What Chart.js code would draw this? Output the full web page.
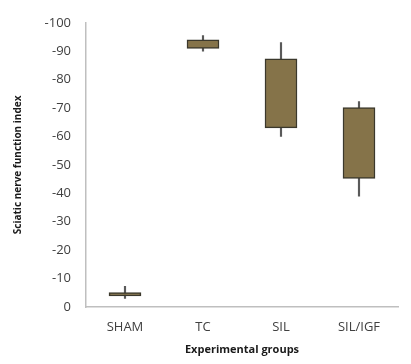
<!DOCTYPE html>
<html>
<head>
<meta charset="utf-8">
<script src="https://cdn.jsdelivr.net/npm/chart.js@4.4.0/dist/chart.umd.min.js"></script>
<style>
  html, body { margin: 0; padding: 0; background: #fff; }
  #wrap { width: 411px; height: 364px; }
</style>
</head>
<body>
<div id="wrap"><canvas id="myChart"></canvas></div>
<script>
// values shown as magnitudes; the axis labels carry the minus sign
const groups = ["SHAM", "TC", "SIL", "SIL/IGF"];
const boxLow = [3.9, 91, 63, 45.2];
const boxHigh = [5.1, 94, 87.3, 70.2];
const whiskerLow = [3.0, 90, 60, 39];
const whiskerHigh = [7.3, 95.5, 93, 72.3];
const yTicks = [0, 10, 20, 30, 40, 50, 60, 70, 80, 90, 100];

const boxData = groups.map((g, i) => [boxLow[i], boxHigh[i]]);
const whiskerData = groups.map((g, i) => [whiskerLow[i], whiskerHigh[i]]);

const data = {
     labels: groups,
     datasets: [
          {
               label: "box",
               data: boxData,
               backgroundColor: "#857349",
               borderColor: "#3b382c",
               borderWidth: 1.5,
               borderSkipped: false,
               barThickness: 32,
               grouped: false,
               order: 1
          },
          {
               label: "whisker",
               data: whiskerData,
               backgroundColor: "#5a5a5a",
               borderWidth: 0,
               barThickness: 1.5,
               grouped: false,
               order: 2
          }
     ]
};

const config = {
     type: "bar",
     data: data,
     options: {
          responsive: true,
          maintainAspectRatio: false,
          animation: false,
          layout: { padding: { left: 0, right: 13, top: 22, bottom: 0 } },
          plugins: { legend: { display: false }, tooltip: { enabled: false } },
          scales: {
               x: {
                    grid: { display: false, drawTicks: false },
                    border: { color: "#bfbfbf", width: 1.5 },
                    ticks: { color: "#404040", font: { family: "Open Sans", size: 13 }, padding: 12 },
                    title: {
                         display: true,
                         text: "Experimental groups",
                         color: "#1a1a1a",
                         font: { family: "Open Sans", size: 11, weight: "bold" },
                         padding: { top: 4, bottom: 8 }
                    },
                    afterFit: function (scale) { scale.height = 57; }
               },
               y: {
                    min: 0,
                    max: 100,
                    grid: { display: false, drawTicks: false },
                    border: { color: "#bfbfbf", width: 1.5 },
                    afterBuildTicks: function (scale) {
                         scale.ticks = yTicks.map(v => ({ value: v }));
                    },
                    ticks: {
                         color: "#404040",
                         font: { family: "Open Sans", size: 13 },
                         padding: 15,
                         callback: v => v === 0 ? "0" : "-" + v
                    },
                    title: {
                         display: true,
                         text: "Sciatic nerve function index",
                         color: "#1a1a1a",
                         font: { family: "Open Sans", size: 10, weight: "bold" },
                         padding: { top: 12 }
                    },
                    afterFit: function (scale) { scale.width = 86; }
               }
          }
     }
};

const myChart = new Chart(document.getElementById("myChart"), config);
</script>
</body>
</html>
